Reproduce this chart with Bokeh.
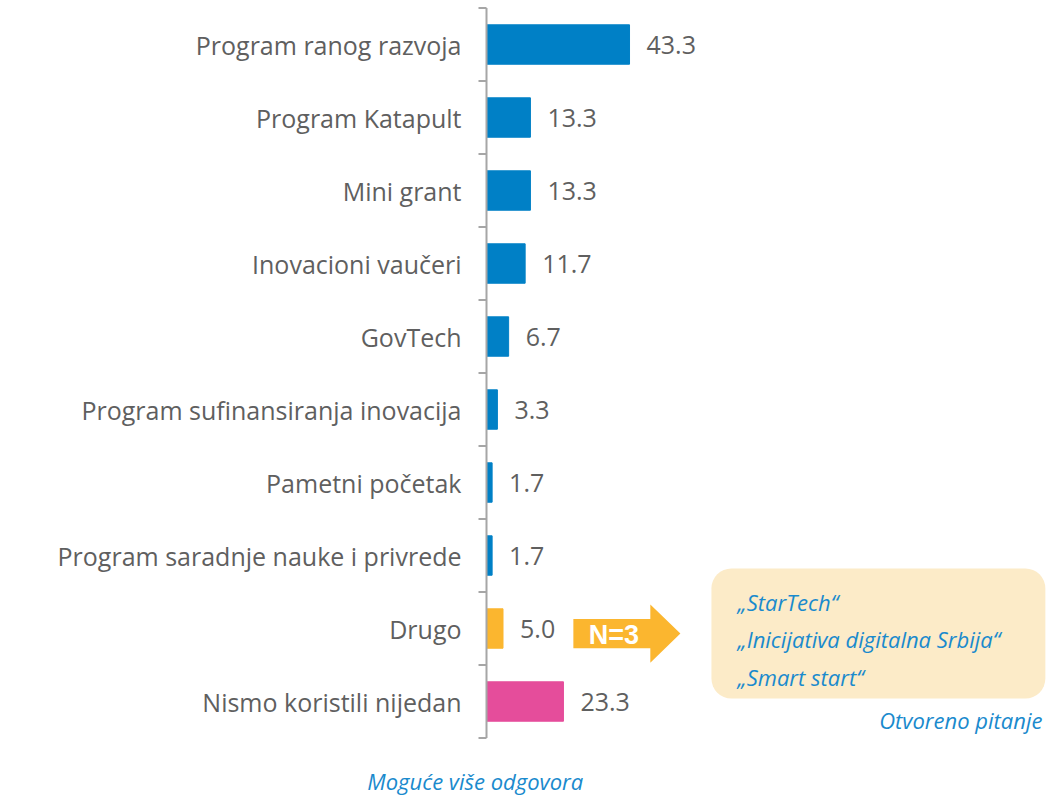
from bokeh.plotting import figure
from bokeh.models import ColumnDataSource, Range1d, BoxAnnotation
from bokeh.core.properties import value
from bokeh.embed import file_html
from bokeh.resources import INLINE

categories = ["Program ranog razvoja", "Program Katapult", "Mini grant",
              "Inovacioni vaučeri", "GovTech", "Program sufinansiranja inovacija",
              "Pametni početak", "Program saradnje nauke i privrede",
              "Drugo", "Nismo koristili nijedan"]
values = [43.3, 13.3, 13.3, 11.7, 6.7, 3.3, 1.7, 1.7, 5.0, 23.3]
groups = ["prog"] * 8 + ["other", "none"]
group_colors = {"prog": "#0080C6", "other": "#FBB62F", "none": "#E54D9B"}
other_answers = ["\u201eStarTech\u201c", "\u201eInicijativa digitalna Srbija\u201c", "\u201eSmart start\u201c"]
n_other = 3
note_open = "Otvoreno pitanje"
note_multi = "Moguće više odgovora"

FONT = "Open Sans"
GRAY = "#5F5F5F"
AXIS = "#A6A6A6"
BLUE_TXT = "#1A8ACD"

W, H = 1046, 800
px_per_unit = 3.303
x0 = (0 - 486) / px_per_unit
x1 = (1046 - 486) / px_per_unit

p = figure(width=W, height=H, output_backend="svg", toolbar_location=None,
           x_range=Range1d(x0, x1), y_range=Range1d(10.356, -0.603),
           min_border=0, min_border_left=0, min_border_right=0,
           min_border_top=0, min_border_bottom=0)
p.axis.visible = False
p.grid.visible = False
p.outline_line_color = None
p.background_fill_color = "white"
p.border_fill_color = "white"

idx = list(range(len(categories)))
src = ColumnDataSource(dict(y=idx, v=values, cat=categories,
                            color=[group_colors[g] for g in groups],
                            vlabel=[f"{v:.1f}" for v in values]))

p.hbar(y="y", right="v", left=0, height=0.54, color="color", source=src)

# value labels
p.text(x="v", y="y", text="vlabel", source=src, x_offset=17,
       text_align="left", text_baseline="middle", text_color=GRAY,
       text_font=value(FONT), text_font_size="25px")

# category labels
p.text(x=0, y="y", text="cat", source=src, x_offset=-25,
       text_align="right", text_baseline="middle", text_color=GRAY,
       text_font=value(FONT), text_font_size="25px")

# axis line and boundary ticks
n = len(categories)
p.segment(x0=[0], y0=[-0.5], x1=[0], y1=[n - 0.5], line_color=AXIS, line_width=2)
tick_len = 8 / px_per_unit
bounds = [i - 0.5 for i in range(n + 1)]
p.segment(x0=[-tick_len] * len(bounds), y0=bounds, x1=[0] * len(bounds), y1=bounds,
          line_color=AXIS, line_width=2)

# arrow for "Drugo"
yd = categories.index("Drugo") + 0.07
ax0, ax1, ax2 = 26.3, 49.6, 58.7
bh, hh = 0.2, 0.4
p.patch(x=[ax0, ax1, ax1, ax2, ax1, ax1, ax0],
        y=[yd - bh, yd - bh, yd - hh, yd, yd + hh, yd + bh, yd + bh],
        fill_color="#FBB62F", line_color=None)
p.text(x=[(ax0 + ax1) / 2 + 0.6], y=[yd + 0.02], text=[f"N={n_other}"],
       text_align="center", text_baseline="middle", text_color="white",
       text_font=value("Liberation Sans"), text_font_style="bold",
       text_font_size="27px")

# rounded box with answers
box = BoxAnnotation(left=68.1, right=169.2, top=7.178, bottom=8.959,
                    fill_color="#FCEBC8", fill_alpha=1.0, line_color=None,
                    border_radius=20, level="underlay")
p.add_layout(box)
ys = [7.63, 8.14, 8.66]
p.text(x=[76.0] * 3, y=ys, text=other_answers, text_align="left",
       text_baseline="middle", text_color=BLUE_TXT, text_font=value(FONT),
       text_font_style="italic", text_font_size="22px")

p.text(x=[168.3], y=[9.25], text=[note_open], text_align="right",
       text_baseline="middle", text_color=BLUE_TXT, text_font=value(FONT),
       text_font_style="italic", text_font_size="22px")

p.text(x=[-3.4], y=[10.09], text=[note_multi], text_align="center",
       text_baseline="middle", text_color=BLUE_TXT, text_font=value(FONT),
       text_font_style="italic", text_font_size="22px")

open("out.html", "w").write(file_html(p, INLINE))
